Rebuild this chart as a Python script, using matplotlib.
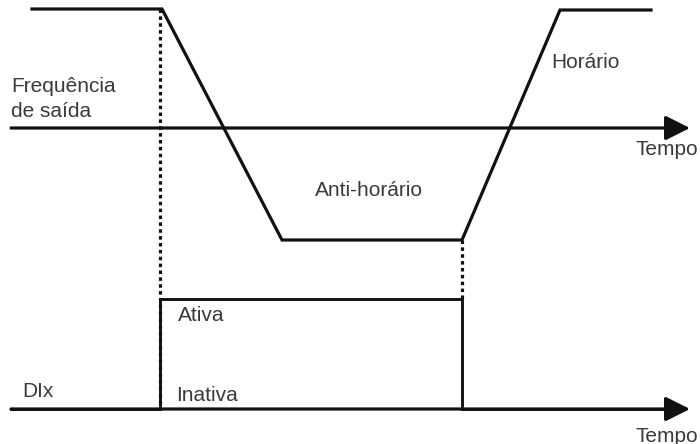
import matplotlib
matplotlib.use("Agg")
import matplotlib.pyplot as plt

# diagram coordinates (pixels, y grows downward)
freq_t = [32, 162, 282, 462, 560, 651]
freq_y = [9, 9, 240, 240, 10, 10]
dix_t = [11, 160, 160, 462, 462, 670]
dix_y = [409, 409, 299, 299, 409, 409]
freq_axis_y = 128
dix_axis_y = 409
axis_start, axis_end = 11, 690
dotted_x = [160, 462]
dotted_top = [9, 240]
dotted_bottom = [409, 299]

labels = [
    ("Frequência", 11, 92),
    ("de saída", 11, 117),
    ("Horário", 551, 68),
    ("Tempo", 635, 155),
    ("Anti-horário", 315, 196),
    ("Ativa", 178, 321),
    ("Inativa", 176, 401),
    ("DIx", 22, 397),
    ("Tempo", 635, 442),
]

plt.rcParams["font.family"] = ["Liberation Sans", "DejaVu Sans"]

fig = plt.figure(figsize=(7, 4.44), dpi=100)
ax = fig.add_axes([0, 0, 1, 1])
ax.set_xlim(0, 700)
ax.set_ylim(444, 0)
ax.axis("off")

lc = "#111111"
for ax_y in [freq_axis_y, dix_axis_y]:
    ax.annotate("", xy=(axis_end, ax_y), xytext=(axis_start, ax_y),
                arrowprops=dict(arrowstyle="-|>,head_length=1.0,head_width=0.5",
                                mutation_scale=15, lw=2.3, color=lc,
                                shrinkA=0, shrinkB=0))

for x, y0, y1 in zip(dotted_x, dotted_top, dotted_bottom):
    ax.plot([x, x], [y0, y1], color=lc, lw=2.3, linestyle=(0, (1.1, 1.05)),
            dash_capstyle="butt")

ax.plot(freq_t, freq_y, color=lc, lw=2.3, solid_joinstyle="miter")
ax.plot(dix_t, dix_y, color=lc, lw=2.1, solid_joinstyle="miter")

for txt, x, y in labels:
    ax.text(x, y, txt, fontsize=15, color="#3a3a3a", ha="left", va="baseline")

fig.savefig("out.png", dpi=100)
